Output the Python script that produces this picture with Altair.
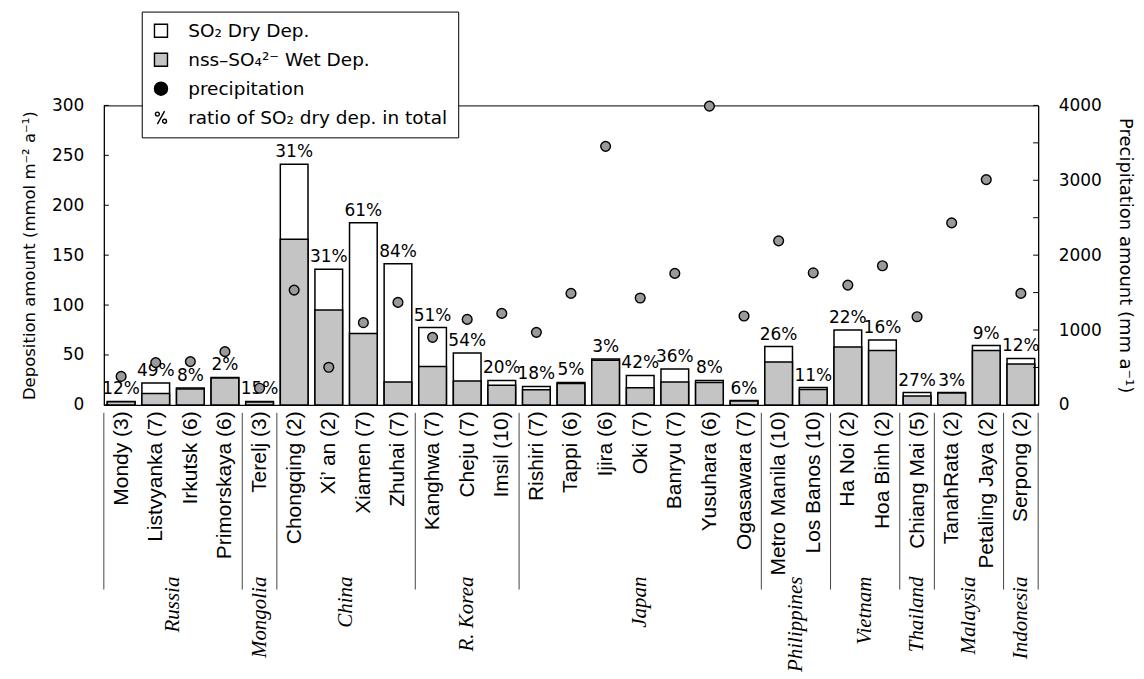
import json
import altair as alt
import pandas as pd

# ---------------- data ----------------
sites = ["Mondy (3)", "Listvyanka (7)", "Irkutsk (6)", "Primorskaya (6)", "Terelj (3)",
         "Chongqing (2)", "Xi\u2019 an (2)", "Xiamen (7)", "Zhuhai (7)",
         "Kanghwa (7)", "Cheju (7)", "Imsil (10)",
         "Rishiri (7)", "Tappi (6)", "Ijira (6)", "Oki (7)", "Banryu (7)", "Yusuhara (6)", "Ogasawara (7)",
         "Metro Manila (10)", "Los Banos (10)", "Ha Noi (2)", "Hoa Binh (2)", "Chiang Mai (5)",
         "TanahRata (2)", "Petaling Jaya (2)", "Serpong (2)"]
countries = ["Russia", "Mongolia", "China", "R. Korea", "Japan", "Philippines",
             "Vietnam", "Thailand", "Malaysia", "Indonesia"]
sites_per_country = [4, 1, 4, 3, 7, 2, 2, 1, 2, 1]

total_dep = [3.5, 22, 17, 27.5, 3.5, 241, 136, 182.5, 141.5, 77.5, 52, 24.5,
             18.5, 22.5, 46, 29.5, 36, 24.5, 4.3, 58.5, 17.3, 75, 65, 12.3,
             12.3, 59.5, 46.5]
wet_dep = [3.1, 11.5, 15.8, 27, 3.0, 166, 95, 71.5, 23, 38.5, 24, 19.6,
           15.2, 21.4, 44.6, 17.2, 23, 22.5, 4.0, 43, 15.4, 58, 54.5, 9.0,
           11.9, 54.5, 41]
dry_pct = [12, 49, 8, 2, 15, 31, 31, 61, 84, 51, 54, 20, 18, 5, 3, 42, 36, 8, 6,
           26, 11, 22, 16, 27, 3, 9, 12]
precip = [380, 565, 578, 711, 222, 1533, 502, 1098, 1369, 902, 1142, 1222,
          969, 1489, 3453, 1427, 1756, 3990, 1187, 2191, 1764, 1600, 1858, 1178,
          2431, 3009, 1489]

left_ticks = [0, 50, 100, 150, 200, 250, 300]
right_ticks = [0, 500, 1000, 1500, 2000, 2500, 3000, 3500, 4000]

legend_items = ["SO\u2082 Dry Dep.", "nss\u2013SO\u2084\u00b2\u207b Wet Dep.",
                "precipitation", "ratio of SO\u2082 dry dep. in total"]

# ---------------- tables ----------------
df = pd.DataFrame({
    "idx": list(range(len(sites))),
    "site": sites,
    "total": total_dep,
    "wet": wet_dep,
    "pct": [f"{p}%" for p in dry_pct],
    "precip": precip,
})

starts = []
s = 0
for n in sites_per_country:
    starts.append(s)
    s += n
country_df = pd.DataFrame({
    "country": countries,
    "center": [st + (n - 1) / 2 for st, n in zip(starts, sites_per_country)],
})
bound_df = pd.DataFrame({
    "b": [-0.5] + [st + n - 0.5 for st, n in zip(starts, sites_per_country)]
})
legend_df = pd.DataFrame({"item": legend_items})
lt_df = pd.DataFrame({"v": left_ticks})
rt_df = pd.DataFrame({"v": right_ticks})

W, H = 936, 300
SANS = "DejaVu Sans"
label_expr = json.dumps(sites) + "[datum.value]"

xscale = alt.Scale(domain=[-0.5, len(sites) - 0.5], nice=False, zero=False)
xaxis = alt.Axis(values=list(range(len(sites))), labelExpr=label_expr, labelAngle=-90,
                 labelPadding=6, ticks=False, grid=False, title=None,
                 labelFont="Liberation Sans", labelFontSize=21, labelColor="black",
                 domainColor="black", labelOverlap=False, labelLimit=400,
                 labelBound=False, labelFlush=False)
yscale = alt.Scale(domain=[0, 300], nice=False)
yaxis = alt.Axis(values=left_ticks, ticks=False, grid=False,
                 labelFont=SANS, labelFontSize=17, labelPadding=20, labelColor="black",
                 title="Deposition amount (mmol m\u207b\u00b2 a\u207b\u00b9)",
                 titleFont=SANS, titleFontSize=16.5, titleFontWeight="normal",
                 titlePadding=14, titleColor="black", domainColor="black")
rscale = alt.Scale(domain=[0, 4000], nice=False)
raxis = alt.Axis(orient="right", values=right_ticks,
                 labelExpr="datum.value % 1000 == 0 ? datum.label : ''",
                 ticks=False, grid=False, labelFont=SANS, labelFontSize=17,
                 labelPadding=20, labelColor="black", format="d",
                 title="Precipitation amount (mm a\u207b\u00b9)", titleAngle=90,
                 titleFont=SANS, titleFontSize=18, titleFontWeight="normal",
                 titlePadding=14, titleColor="black", domainColor="black")

base = alt.Chart(df).transform_calculate(
    lo="datum.idx - 0.4", hi="datum.idx + 0.4")

total_bars = base.mark_bar(fill="white", stroke="black", strokeWidth=1.5).encode(
    x=alt.X("lo:Q", scale=xscale, axis=xaxis),
    x2="hi:Q",
    y=alt.Y("total:Q", scale=yscale, axis=yaxis),
    y2=alt.datum(0),
)
wet_bars = base.mark_bar(fill="#c4c4c4", stroke="black", strokeWidth=1.5).encode(
    x=alt.X("lo:Q", scale=xscale, axis=xaxis),
    x2="hi:Q",
    y=alt.Y("wet:Q", scale=yscale, axis=yaxis),
    y2=alt.datum(0),
)
pct_text = base.mark_text(font=SANS, fontSize=17, baseline="bottom",
                          dy=-3, color="black").encode(
    x=alt.X("idx:Q", scale=xscale, axis=xaxis),
    y=alt.Y("total:Q", scale=yscale, axis=yaxis),
    text="pct:N",
)
separators = alt.Chart(bound_df).mark_rule(color="#444444", strokeWidth=1).encode(
    x=alt.X("b:Q", scale=xscale, axis=xaxis),
    y=alt.value(308),
    y2=alt.value(485),
)
country_text = alt.Chart(country_df).mark_text(
    font="Liberation Serif", fontStyle="italic", fontSize=21, angle=270,
    align="right", baseline="middle", color="black").encode(
    x=alt.X("center:Q", scale=xscale, axis=xaxis),
    y=alt.value(472),
    text="country:N",
)
left_tick_marks = alt.Chart(lt_df).mark_rule(color="black", strokeWidth=1).encode(
    y=alt.Y("v:Q", scale=yscale, axis=yaxis),
    x=alt.value(0),
    x2=alt.value(5),
)

pct_path = ("M -0.85 -0.55 A 0.3 0.3 0 1 1 -0.25 -0.55 A 0.3 0.3 0 1 1 -0.85 -0.55 Z "
            "M 0.25 0.55 A 0.3 0.3 0 1 1 0.85 0.55 A 0.3 0.3 0 1 1 0.25 0.55 Z "
            "M 0.55 -1 L -0.55 1")
leg = alt.Legend(orient="none", legendX=38, legendY=-94, title=None,
                 labelFont=SANS, labelFontSize=18.5, labelColor="black",
                 labelLimit=400, labelOffset=18, symbolSize=170,
                 symbolStrokeWidth=1.4, symbolOpacity=1,
                 strokeColor="black", fillColor="white", padding=10, rowPadding=9)
legend_layer = alt.Chart(legend_df).mark_point(
    filled=True, opacity=0, size=0).encode(
    fill=alt.Fill("item:N", scale=alt.Scale(domain=legend_items,
                  range=["white", "#c4c4c4", "black", "transparent"]), legend=leg),
    shape=alt.Shape("item:N", scale=alt.Scale(domain=legend_items,
                    range=["square", "square", "circle", pct_path]), legend=leg),
    stroke=alt.Stroke("item:N", scale=alt.Scale(domain=legend_items,
                      range=["black", "black", "black", "black"]), legend=leg),
)

left = alt.layer(total_bars, wet_bars, pct_text, separators, country_text,
                 left_tick_marks, legend_layer)

points = alt.Chart(df).mark_point(filled=True, fill="#9a9a9a", stroke="black",
                                  strokeWidth=1.4, size=95, opacity=1).encode(
    x=alt.X("idx:Q", scale=xscale, axis=xaxis),
    y=alt.Y("precip:Q", scale=rscale, axis=raxis),
)
right_tick_marks = alt.Chart(rt_df).mark_rule(color="black", strokeWidth=1).encode(
    y=alt.Y("v:Q", scale=rscale, axis=raxis),
    x=alt.value(W - 5),
    x2=alt.value(W),
)
right = alt.layer(points, right_tick_marks)

chart = alt.layer(left, right).resolve_scale(y="independent").properties(
    width=W, height=H,
    padding={"left": 13, "top": 2, "right": 2, "bottom": 0},
    background="white",
).configure_view(stroke="black", strokeWidth=1).configure_axisX(labelOverlap=False)

chart.save("out.html", embed_options={"renderer": "svg", "actions": False})
